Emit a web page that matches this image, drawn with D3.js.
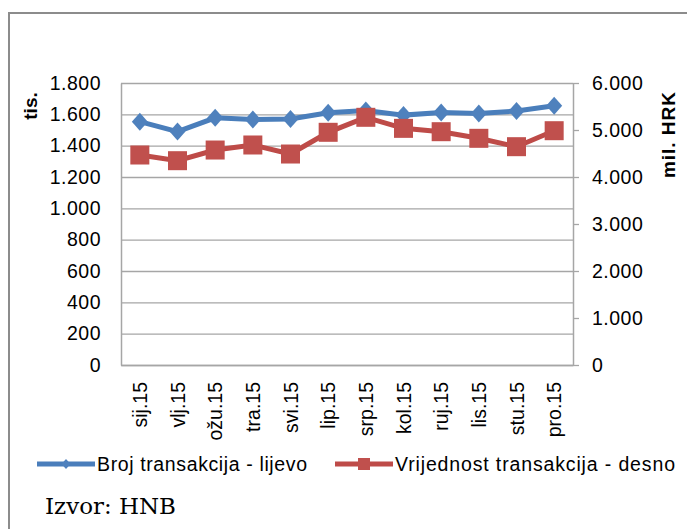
<!DOCTYPE html>
<html>
<head>
<meta charset="utf-8">
<script src="https://cdn.jsdelivr.net/npm/d3@7"></script>
<style>
  body { margin: 0; background: #fff; }
  svg text { font-family: Arial, "Liberation Sans", sans-serif; fill: #000; }
</style>
</head>
<body>
<div id="chart"></div>
<script>
// months of 2015
const months = ["sij.15", "vlj.15", "ožu.15", "tra.15", "svi.15", "lip.15",
  "srp.15", "kol.15", "ruj.15", "lis.15", "stu.15", "pro.15"];
// number of transactions, thousands (left axis)
const brojTransakcija = [1553, 1490, 1578, 1567, 1570, 1610, 1625, 1595, 1612, 1606, 1621, 1655];
// value of transactions, mil. HRK (right axis)
const vrijednostTransakcija = [4468, 4347, 4574, 4681, 4489, 4951, 5270, 5035, 4964, 4823, 4645, 4985];
const leftTicks = [0, 200, 400, 600, 800, 1000, 1200, 1400, 1600, 1800];
const rightTicks = [0, 1000, 2000, 3000, 4000, 5000, 6000];

const width = 687, height = 529;
const plot = { left: 121, right: 573, top: 83, bottom: 365 };
const blue = "#4a7ebb", blueMark = "#4f81bd";
const red = "#be4b48", redMark = "#c0504d";
const gridColor = "#a6a6a6";
const fontSize = 19.5;

const locale = d3.formatLocale({ decimal: ",", thousands: ".", grouping: [3], currency: ["", ""] });
const fmt = locale.format(",");

let svg = d3.select("#chart").append("svg")
  .attr("width", width)
  .attr("height", height);

// outer frame (cut off at right and bottom)
svg.append("path")
  .attr("d", `M9,${height} V13 H${width}`)
  .attr("fill", "none")
  .attr("stroke", "#8c8c8c")
  .attr("stroke-width", 2);

let x = d3.scaleBand()
  .domain(months)
  .range([plot.left, plot.right]);

let yLeft = d3.scaleLinear()
  .domain([0, 1800])
  .range([plot.bottom, plot.top]);

let yRight = d3.scaleLinear()
  .domain([0, 6000])
  .range([plot.bottom, plot.top]);

// gridlines
svg.append("g")
  .attr("class", "grid")
  .attr("transform", `translate(${plot.left},0)`)
  .call(d3.axisLeft(yLeft).tickValues(leftTicks).tickSize(-(plot.right - plot.left)).tickFormat(""))
  .call(g => g.select(".domain").remove())
  .call(g => g.selectAll("line").attr("stroke", gridColor).attr("stroke-width", 1.3));

// left axis
svg.append("g")
  .attr("transform", `translate(${plot.left},0)`)
  .call(d3.axisLeft(yLeft).tickValues(leftTicks).tickSize(0).tickPadding(20).tickFormat(fmt))
  .call(g => g.select(".domain").attr("stroke", gridColor).attr("stroke-width", 1.5))
  .call(g => g.selectAll("text").attr("font-size", fontSize).attr("letter-spacing", 0.5)
    .attr("font-family", "Arial, 'Liberation Sans', sans-serif"));

// right axis
svg.append("g")
  .attr("transform", `translate(${plot.right},0)`)
  .call(d3.axisRight(yRight).tickValues(rightTicks).tickSizeInner(6).tickSizeOuter(0).tickPadding(13).tickFormat(fmt))
  .call(g => g.select(".domain").attr("stroke", gridColor).attr("stroke-width", 1.5))
  .call(g => g.selectAll("line").attr("stroke", gridColor).attr("stroke-width", 1.3))
  .call(g => g.selectAll("text").attr("font-size", fontSize).attr("letter-spacing", 0.5)
    .attr("font-family", "Arial, 'Liberation Sans', sans-serif"));

// bottom axis
svg.append("g")
  .attr("transform", `translate(0,${plot.bottom})`)
  .call(d3.axisBottom(x).tickSize(0).tickPadding(0))
  .call(g => g.select(".domain").attr("stroke", gridColor).attr("stroke-width", 1.5))
  .call(g => g.selectAll("text")
    .attr("font-size", fontSize)
    .attr("font-family", "Arial, 'Liberation Sans', sans-serif")
    .attr("text-anchor", "end")
    .attr("dy", null)
    .attr("y", null)
    .attr("dominant-baseline", "central")
    .attr("transform", "translate(0,17) rotate(-90)"));

// axis titles
svg.append("text")
  .attr("transform", "translate(30,106) rotate(-90)")
  .attr("text-anchor", "middle")
  .attr("dominant-baseline", "central")
  .attr("font-size", 19)
  .attr("font-weight", "bold")
  .text("tis.");

svg.append("text")
  .attr("transform", "translate(668,135) rotate(-90)")
  .attr("text-anchor", "middle")
  .attr("dominant-baseline", "central")
  .attr("font-size", 19)
  .attr("font-weight", "bold")
  .attr("textLength", 86)
  .text("mil. HRK");

let cx = d => x(d) + x.bandwidth() / 2;

// value series (red, behind)
let lineRight = d3.line()
  .x((d, i) => cx(months[i]))
  .y(d => yRight(d));

svg.append("path")
  .datum(vrijednostTransakcija)
  .attr("d", lineRight)
  .attr("fill", "none")
  .attr("stroke", red)
  .attr("stroke-width", 5);

// count series (blue)
let lineLeft = d3.line()
  .x((d, i) => cx(months[i]))
  .y(d => yLeft(d));

svg.append("path")
  .datum(brojTransakcija)
  .attr("d", lineLeft)
  .attr("fill", "none")
  .attr("stroke", blue)
  .attr("stroke-width", 5);

const diamond = "M0,-9 L8,0 L0,9 L-8,0 Z";

svg.append("g").selectAll("path")
  .data(brojTransakcija)
  .enter()
  .append("path")
  .attr("d", diamond)
  .attr("fill", blueMark)
  .attr("transform", (d, i) => `translate(${cx(months[i])},${yLeft(d)})`);

svg.append("g").selectAll("rect")
  .data(vrijednostTransakcija)
  .enter()
  .append("rect")
  .attr("x", (d, i) => cx(months[i]) - 9.5)
  .attr("y", d => yRight(d) - 9.5)
  .attr("width", 19)
  .attr("height", 19)
  .attr("fill", redMark);

// legend
let legend = svg.append("g").attr("transform", "translate(0,464)");
let items = [
  { name: "Broj transakcija - lijevo", color: blue, mark: blueMark, shape: "diamond", x0: 37, len: 210 },
  { name: "Vrijednost transakcija - desno", color: red, mark: redMark, shape: "square", x0: 335, len: 280 }
];
items.forEach(it => {
  legend.append("line")
    .attr("x1", it.x0).attr("x2", it.x0 + 58)
    .attr("stroke", it.color)
    .attr("stroke-width", 5);
  if (it.shape === "diamond") {
    legend.append("path")
      .attr("d", "M0,-5 L4.5,0 L0,5 L-4.5,0 Z")
      .attr("fill", it.mark)
      .attr("transform", `translate(${it.x0 + 29},0)`);
  } else {
    legend.append("rect")
      .attr("x", it.x0 + 23).attr("y", -6)
      .attr("width", 12).attr("height", 12)
      .attr("fill", it.mark);
  }
  legend.append("text")
    .attr("x", it.x0 + 60)
    .attr("dominant-baseline", "central")
    .attr("font-size", fontSize)
    .attr("textLength", it.len)
    .text(it.name);
});

// source
svg.append("text")
  .attr("x", 45)
  .attr("y", 514)
  .attr("font-size", 22)
  .style("font-family", "'DejaVu Serif', 'Liberation Serif', serif")
  .attr("textLength", 131)
  .attr("lengthAdjust", "spacingAndGlyphs")
  .text("Izvor: HNB");
</script>
</body>
</html>
